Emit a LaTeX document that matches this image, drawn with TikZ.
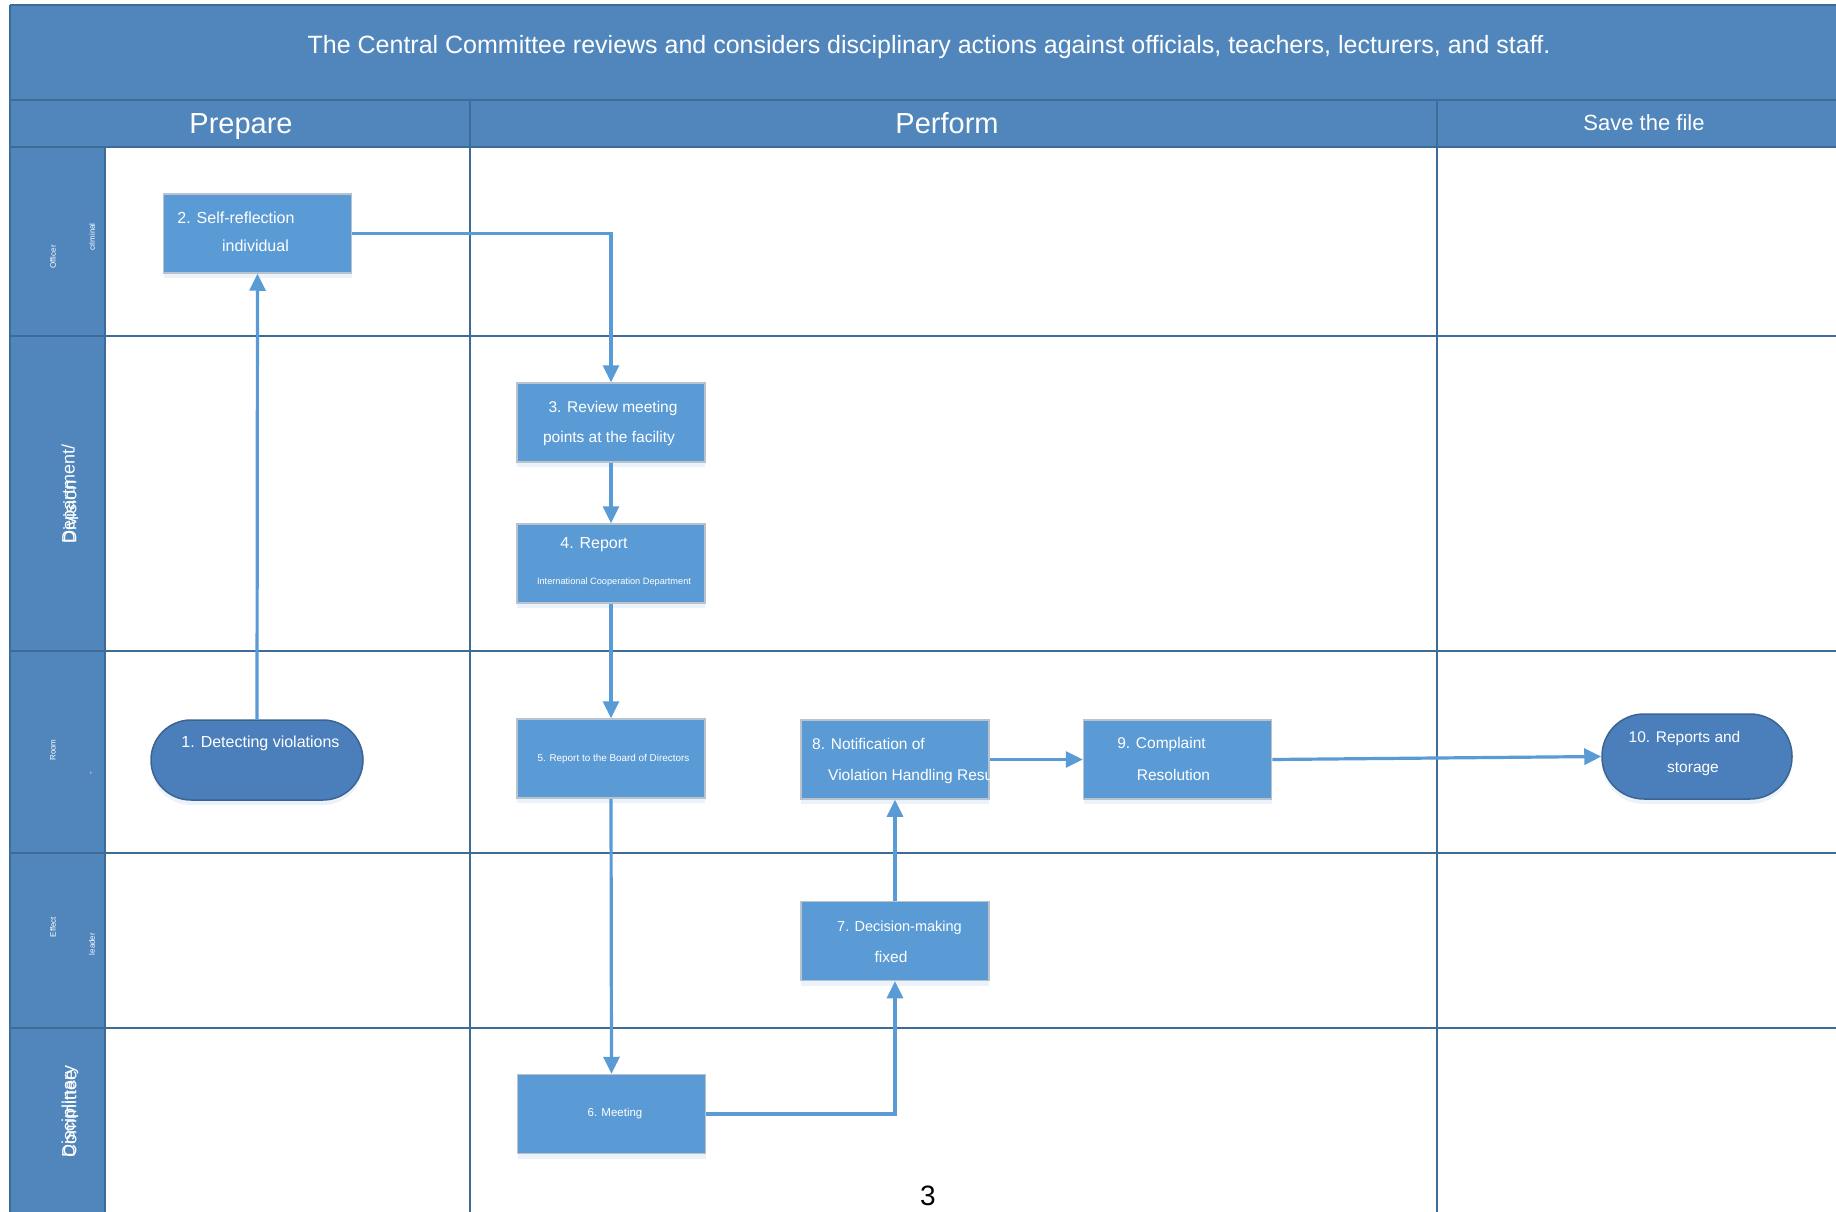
\documentclass[tikz,border=0pt]{standalone}
\usepackage{fontspec}
\setmainfont{Liberation Sans}
\usetikzlibrary{arrows.meta,shadows}
\definecolor{hdr}{RGB}{80,134,188}
\definecolor{gridc}{RGB}{62,108,152}
\definecolor{boxc}{RGB}{91,155,213}
\definecolor{termc}{RGB}{74,127,187}
\definecolor{termline}{RGB}{60,100,145}
\definecolor{boxline}{RGB}{185,195,205}
\newcommand{\fsz}[1]{\fontsize{#1}{#1}\selectfont}
\begin{document}
\begin{tikzpicture}[x=1pt,y=-1pt,
  gridline/.style={draw=gridc,line width=2pt},
  procbox/.style={draw=boxline,line width=1.5pt,fill=boxc,minimum width=188pt,minimum height=79pt,inner sep=0pt,
    drop shadow={shadow xshift=0pt,shadow yshift=-5pt,opacity=0.12,fill=boxc}},
  termbox/.style={draw=termline,line width=1.5pt,fill=termc,rounded corners=40pt,inner sep=0pt,
    drop shadow={shadow xshift=0pt,shadow yshift=-5pt,opacity=0.12,fill=boxc}},
  wtxt/.style={text=white,inner sep=0pt,font=\fsz{15.5}},
  htxt/.style={text=white,inner sep=0pt},
  lanetxt/.style={text=white,inner sep=0pt,rotate=90,font=\fsz{8}},
  bigtxt/.style={text=white,inner sep=0pt,rotate=90,font=\fsz{18},anchor=west},
  conn/.style={draw=boxc,line width=3.2pt,-{Triangle[length=17pt,width=16pt]}}]
\useasboundingbox (0,0) rectangle (1836,1212);
\fill[white] (0,0) rectangle (1836,1212);
% bands
\fill[hdr] (10,5) rectangle (1840,147);
\fill[hdr] (10,147) rectangle (105,1216);
% grid lines
\draw[gridline] (10,5) -- (1840,5);
\draw[gridline] (10,5) -- (10,1216);
\draw[gridline] (10,100) -- (1840,100);
\draw[gridline] (10,147) -- (1840,147);
\draw[gridline] (105,147) -- (105,1216);
\draw[gridline] (470,100) -- (470,1216);
\draw[gridline] (1437,100) -- (1437,1216);
\draw[gridline] (10,336) -- (1840,336);
\draw[gridline] (10,651) -- (1840,651);
\draw[gridline] (10,853) -- (1840,853);
\draw[gridline] (10,1028) -- (1840,1028);
% titles
\node[htxt,font=\fsz{25}] (title) at (929,47.5) {The Central Committee reviews and considers disciplinary actions against officials, teachers, lecturers, and staff.};
\node[htxt,font=\fsz{29}] (hprep) at (241,126.5) {Prepare};
\node[htxt,font=\fsz{29}] (hperf) at (947,123) {Perform};
\node[htxt,font=\fsz{22}] (hsave) at (1644,123) {Save the file};
% lane labels
\node[lanetxt] (l1a) at (53,257) {Officer};
\node[lanetxt] (l1b) at (92,237) {criminal};
\node[bigtxt] (l2a) at (70,544) {Department/};
\node[bigtxt] (l2b) at (70,544) {Division};
\node[lanetxt] (l3a) at (53,750) {Room};
\node[lanetxt] (l3b) at (92,773) {-};
\node[lanetxt] (l4a) at (53,927) {Effect};
\node[lanetxt] (l4b) at (92,944) {leader};
\node[bigtxt] (l5a) at (70,1158) {Disciplinary};
\node[bigtxt] (l5b) at (70,1158) {Committee};
% shapes
\node[termbox,minimum width=212pt,minimum height=80pt] (t1) at (257,760) {};
\node[procbox] (b2) at (257.5,233.5) {};
\node[procbox] (b3) at (611,422.5) {};
\node[procbox] (b4) at (611,563.5) {};
\node[procbox] (b5) at (611,758.5) {};
\node[procbox] (b6) at (611.5,1114) {};
\node[procbox] (b7) at (895,941) {};
\node[procbox] (b8) at (895,759.5) {};
\node[procbox] (b9) at (1177.5,759.5) {};
\node[termbox,minimum width=190pt,minimum height=85pt,rounded corners=42pt] (t10) at (1697,756.5) {};
% texts
\node[wtxt,font=\fsz{16}] (t1a) at (260.5,743) {1. Detecting violations};
\node[wtxt,font=\fsz{16}] (b2a) at (236,218) {2. Self-reflection};
\node[wtxt,font=\fsz{16}] (b2b) at (255.5,246) {individual};
\node[wtxt] (b3a) at (613,408) {3. Review meeting};
\node[wtxt] (b3b) at (609,438) {points at the facility};
\node[wtxt,font=\fsz{16}] (b4a) at (594,545) {4. Report};
\node[wtxt,font=\fsz{9.2}] (b4b) at (614,582) {International Cooperation Department};
\node[wtxt,font=\fsz{9.9}] (b5a) at (613.5,759) {5. Report to the Board of Directors};
\node[wtxt,font=\fsz{11.5}] (b6a) at (615,1114) {6. Meeting};
\node[wtxt,font=\fsz{14.5}] (b7a) at (899.5,928) {7. Decision-making};
\node[wtxt,font=\fsz{15.5}] (b7b) at (891,957) {fixed};
\begin{scope}
\clip (b8.south west) rectangle (b8.north east);
\node[wtxt,anchor=west] (b8a) at (812,744) {8. Notification of};
\node[wtxt,anchor=west] (b8b) at (828,776) {Violation Handling Results};
\end{scope}
\node[wtxt] (b9a) at (1161.5,744) {9. Complaint};
\node[wtxt] (b9b) at (1173.5,775) {Resolution};
\node[wtxt] (t10a) at (1684.5,738) {10. Reports and};
\node[wtxt] (t10b) at (1693,769) {storage};
\node[inner sep=0pt,font=\fsz{28}] (pg) at (928,1196) {3};
% connectors
\draw[conn] (t1.north) -- (b2.south);
\draw[conn] (b2.east) -| (b3.north);
\draw[conn] (b3.south) -- (b4.north);
\draw[conn] (b4.south) -- (b5.north);
\draw[conn] (b5.south) -- (b6.north);
\draw[conn] (b6.east) -| (b7.south);
\draw[conn] (b7.north) -- (b8.south);
\draw[conn] (b8.east) -- (b9.west);
\draw[conn] (b9.east) -- (t10.west);
\end{tikzpicture}
\end{document}
